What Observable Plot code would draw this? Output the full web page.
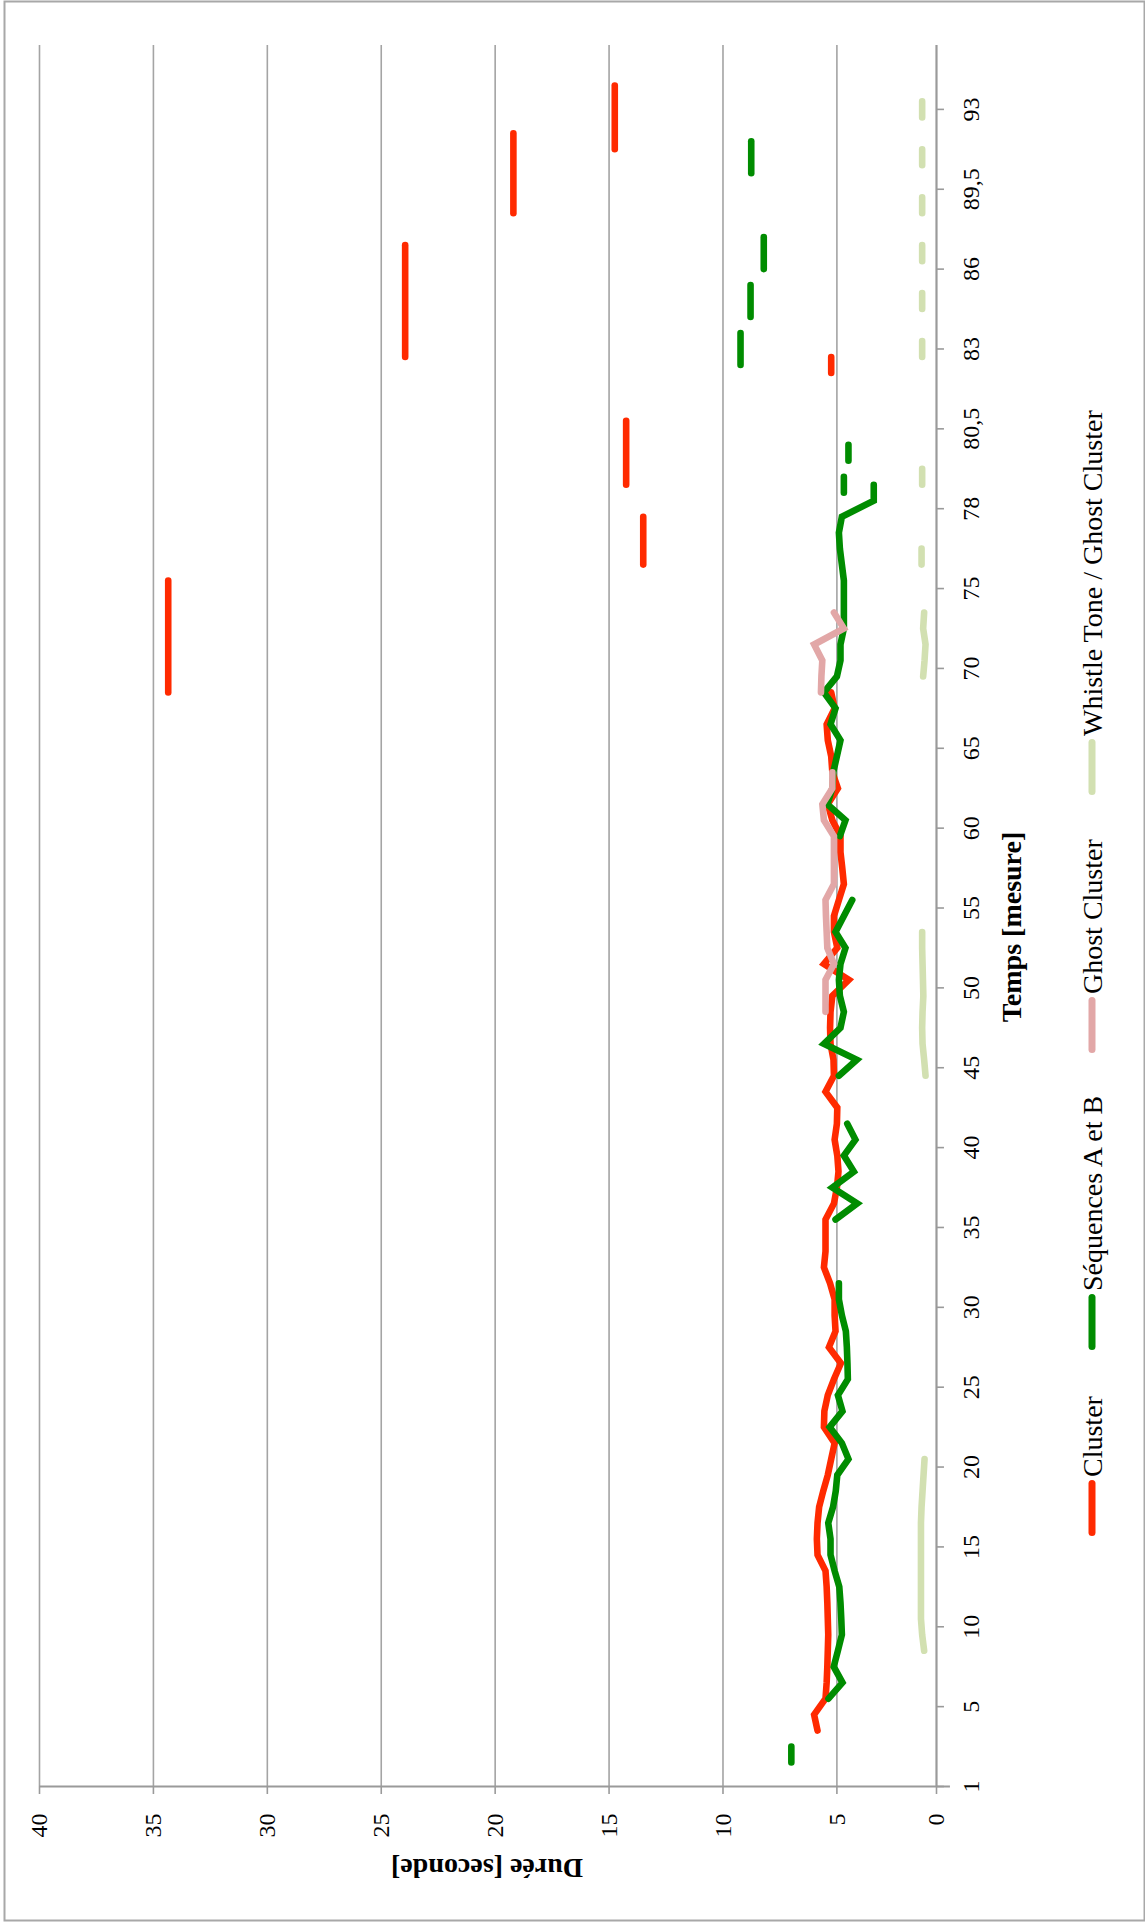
<!DOCTYPE html>
<html>
<head>
<meta charset="utf-8">
<script src="https://cdn.jsdelivr.net/npm/d3@7"></script>
<script src="https://cdn.jsdelivr.net/npm/@observablehq/plot@0.6"></script>
<style>
  html, body { margin: 0; padding: 0; background: #fff; }
  #chart { width: 1145px; height: 1924px; }
  #chart svg { display: block; }
</style>
</head>
<body>
<div id="chart"></div>
<script>
// ---------- DATA ----------
const categoryCount = 109; // categories along the "Temps [mesure]" axis
const timeTickIndex  = [0, 5, 10, 15, 20, 25, 30, 35, 40, 45, 50, 55, 60, 65, 70, 75, 80, 85, 90, 95, 100, 105];
const timeTickLabels = ["1", "5", "10", "15", "20", "25", "30", "35", "40", "45", "50", "55", "60", "65", "70", "75", "78", "80,5", "83", "86", "89,5", "93"];
const durationTicks  = [0, 5, 10, 15, 20, 25, 30, 35, 40];

const seriesNames  = ["Cluster", "Séquences A et B", "Ghost Cluster", "Whistle Tone / Ghost Cluster"];
const seriesColors = ["#ff2a00", "#008c00", "#e2a7a7", "#d2e0b1"];

// one value per category (null = no value)
const clusterValues = [
  null, null, null, 5.85, 6.0, 5.5, 5.45, 5.42, 5.4, 5.38,
  5.4, 5.42, 5.45, 5.5, 5.85, 5.88, 5.85, 5.78, 5.6, 5.4,
  5.25, 5.1, 5.57, 5.55, 5.4, 5.13, 4.8, 5.35, 5.06, 5.1,
  5.1, 5.3, 5.57, 5.5, 5.5, 5.5, 5.13, 5.0, 4.92, 4.98,
  5.1, 5.0, 4.98, 5.5, 5.13, 5.15, 5.28, 5.3, 5.28, 5.2,
  4.4, 5.57, 4.98, 5.13, 5.13, 4.9, 4.65, 4.73, 4.82, 4.82,
  5.2, 5.4, 4.95, 5.2, 5.25, 5.4, 5.45, 5.1, 5.25, null,
  null, null, null, null, null, null, null, null, null, null,
  null, null, null, null, null, null, null, null, 5.25, 5.25,
  null, null, null, null, null, null, null, null, null, null,
  null, null, null, null, null, null, null, null, null
];
const sequencesValues = [
  null, 7.0, 7.0, null, null, 5.37, 4.72, 5.14, 4.95, 4.75,
  4.78, 4.82, 4.88, 5.1, 5.28, 5.28, 5.38, 5.17, 5.05, 4.98,
  4.42, 4.75, 5.32, 4.72, 4.95, 4.45, 4.47, 4.5, 4.55, 4.75,
  4.9, 4.9, null, null, null, 5.06, 3.98, 5.2, 4.15, 4.65,
  4.07, 4.48, null, null, 4.9, 4.0, 5.57, 4.82, 4.65, 4.85,
  4.9, 4.82, 4.57, 5.06, 4.65, 4.23, null, null, null, 4.85,
  4.57, 5.42, 5.2, 5.16, 5.0, 4.82, 5.28, 5.06, 5.57, 5.0,
  4.82, 4.82, 4.65, 4.65, 4.65, 4.65, 4.75, 4.85, 4.9, 4.75,
  3.15, 3.15, null, null, null, null, null, null, null, null,
  null, null, null, null, null, null, null, null, null, null,
  null, null, null, null, null, null, null, null, null
];
const ghostValues = [
  null, null, null, null, null, null, null, null, null, null,
  null, null, null, null, null, null, null, null, null, null,
  null, null, null, null, null, null, null, null, null, null,
  null, null, null, null, null, null, null, null, null, null,
  null, null, null, null, null, null, null, null, 5.5, 5.5,
  5.5, 5.13, 5.42, 5.45, 5.48, 5.5, 5.13, 5.13, 5.13, 5.13,
  5.57, 5.64, 5.2, 5.2, null, null, null, null, 5.7, 5.68,
  5.64, 6.0, 4.65, 5.13, null, null, null, null, null, null,
  null, null, null, null, null, null, null, null, null, null,
  null, null, null, null, null, null, null, null, null, null,
  null, null, null, null, null, null, null, null, null
];
const whistleValues = [
  null, null, null, null, null, null, null, null, 0.62, 0.72,
  0.78, 0.78, 0.78, 0.78, 0.78, 0.78, 0.78, 0.75, 0.7, 0.65,
  0.6, null, null, null, null, null, null, null, null, null,
  null, null, null, null, null, null, null, null, null, null,
  null, null, null, null, 0.55, 0.62, 0.7, 0.72, 0.7, 0.66,
  0.68, 0.7, 0.72, 0.72, null, null, null, null, null, null,
  null, null, null, null, null, null, null, null, null, 0.67,
  0.6, 0.55, 0.67, 0.62, null, null, 0.75, 0.75, null, null,
  null, 0.72, 0.72, null, null, null, null, null, null, 0.72,
  0.72, null, 0.72, 0.72, null, 0.72, 0.72, null, 0.72, 0.72,
  null, 0.72, 0.72, null, 0.72, 0.72, null, null, null
];

// long held clusters: first category, last category, duration
const clusterHoldStart = [68, 76, 81, 89, 98, 102];
const clusterHoldEnd   = [75, 79, 85, 96, 103, 106];
const clusterHoldValue = [34.35, 13.5, 14.25, 23.95, 19.2, 14.75];

// extra "Séquences" segments (placed on the tick grid): start, end, duration
const seqSegStart = [81, 83, 89, 92, 95, 101];
const seqSegEnd   = [82, 84, 91, 94, 97, 103];
const seqSegValue = [4.65, 4.42, 9.23, 8.79, 8.21, 8.76];

// ---------- CHART ----------
const FONT = "'Liberation Serif', 'Times New Roman', 'DejaVu Serif', serif";
const GRID = "#a4a4a4";
const lineStyle = (c) => ({stroke: c, strokeWidth: 6.6, strokeLinecap: "round", strokeLinejoin: "miter", strokeMiterlimit: 4});
const at = () => ({x: (d) => d, y: (d, i) => i + 0.5});
const holdIdx = d3.range(clusterHoldValue.length);
const segIdx = d3.range(seqSegValue.length);

const chart = Plot.plot({
  width: 1145,
  height: 1924,
  marginTop: 1, marginLeft: 4, marginRight: 1, marginBottom: 4,
  style: {background: "#fff", fontFamily: FONT, color: "#000"},
  x: {type: "linear", domain: [0, 5, 40], range: [936, 836.4, 39], axis: null},
  y: {type: "linear", domain: [0, categoryCount], range: [1786, 45], axis: null},
  marks: [
    Plot.frame({stroke: "#a8a8a8", strokeWidth: 2}),
    // gridlines
    Plot.ruleX(durationTicks.filter(d => d > 0), {y1: 0, y2: categoryCount, stroke: GRID, strokeWidth: 1.6}),
    // axes
    Plot.ruleX([0], {y1: 0, y2: categoryCount, stroke: "#9a9a9a", strokeWidth: 2.2}),
    Plot.ruleY([0], {x1: 40, x2: -0.7, stroke: "#9a9a9a", strokeWidth: 2.2}),
    Plot.ruleX(durationTicks, {y1: 0, y2: -0.5, stroke: "#9a9a9a", strokeWidth: 1.6}),
    Plot.ruleY(timeTickIndex, {x1: 0, x2: -0.4, stroke: "#9a9a9a", strokeWidth: 1.6}),
    // tick labels
    Plot.text(timeTickIndex, {x: () => 0, y: d => d, dx: 42, text: (d, i) => timeTickLabels[i], rotate: -90, textAnchor: "middle", lineAnchor: "bottom", fontSize: 24, fill: "#000"}),
    Plot.text(durationTicks, {x: d => d, y: () => 0, dy: 27, text: d => String(d), rotate: -90, textAnchor: "end", lineAnchor: "middle", fontSize: 24, fill: "#000"}),
    // series
    Plot.line(clusterValues, {...at(), ...lineStyle(seriesColors[0])}),
    Plot.link(holdIdx, {x1: i => clusterHoldValue[i], x2: i => clusterHoldValue[i], y1: i => clusterHoldStart[i] + 0.5, y2: i => clusterHoldEnd[i] + 0.5, ...lineStyle(seriesColors[0])}),
    Plot.line(sequencesValues, {...at(), ...lineStyle(seriesColors[1])}),
    Plot.link(segIdx, {x1: i => seqSegValue[i], x2: i => seqSegValue[i], y1: i => seqSegStart[i], y2: i => seqSegEnd[i], ...lineStyle(seriesColors[1])}),
    Plot.line(ghostValues, {...at(), ...lineStyle(seriesColors[2])}),
    Plot.line(whistleValues, {...at(), ...lineStyle(seriesColors[3])})
  ]
});

const svg = d3.select(chart);
// axis titles
svg.append("text")
  .attr("transform", "translate(1021,927) rotate(-90)")
  .attr("text-anchor", "middle")
  .attr("font-family", FONT).attr("font-size", 28).attr("font-weight", "bold").attr("fill", "#000")
  .text("Temps [mesure]");
svg.append("text")
  .attr("transform", "translate(487,1859) rotate(180)")
  .attr("text-anchor", "middle")
  .attr("font-family", FONT).attr("font-size", 28).attr("font-weight", "bold").attr("fill", "#000")
  .text("Durée [seconde]");

// legend (rotated like the rest of the chart)
const legendStarts = [0, 186, 483, 741];
const lg = svg.append("g").attr("transform", "translate(1102,1536) rotate(-90)");
seriesNames.forEach((name, k) => {
  const x0 = legendStarts[k];
  lg.append("line")
    .attr("x1", x0 + 3.5).attr("x2", x0 + 52.5).attr("y1", -10).attr("y2", -10)
    .attr("stroke", seriesColors[k]).attr("stroke-width", 7).attr("stroke-linecap", "round");
  lg.append("text")
    .attr("x", x0 + 59).attr("y", 0)
    .attr("text-anchor", "start")
    .attr("font-family", FONT).attr("font-size", 28).attr("fill", "#000")
    .text(name);
});

document.getElementById("chart").appendChild(chart);
</script>
</body>
</html>
